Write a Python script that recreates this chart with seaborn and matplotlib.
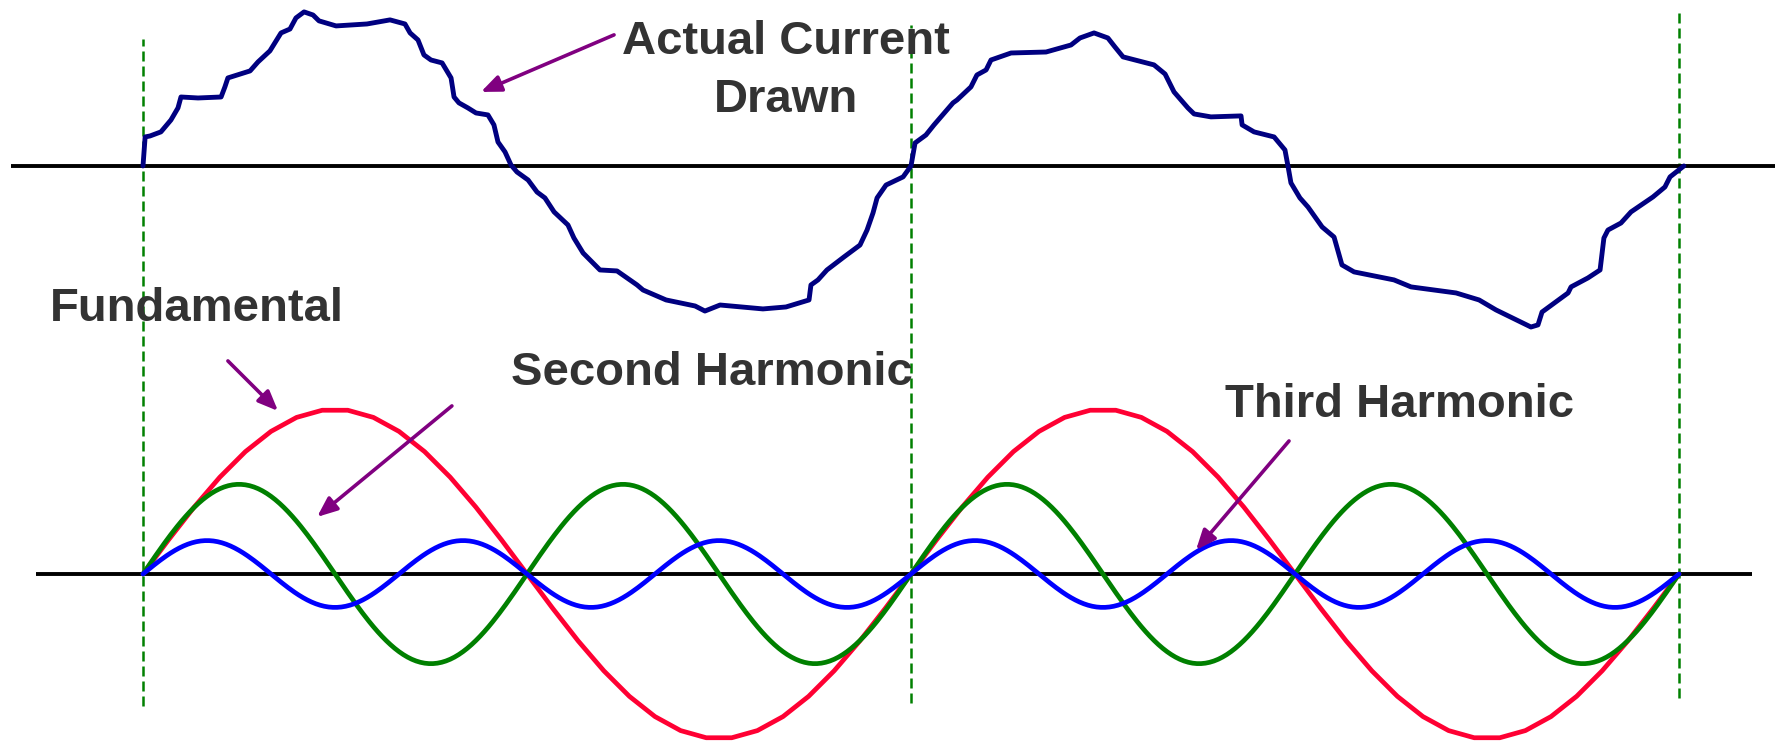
import numpy as np
import pandas as pd
import matplotlib
matplotlib.use("Agg")
import matplotlib.pyplot as plt
import seaborn as sns

# actual current drawn: phase angle (deg) vs current (fundamental peak = 1)
current_deg = [0, 1, 3.3, 8.4, 13.1, 16.4, 17.8, 25.8, 36.6, 38.4, 39.8, 50.2, 53.9, 59.5, 64.7,
               68.9, 71.7, 75.5, 79.7, 82.5, 90.5, 105.0, 115.8, 122.8, 125.2, 128.9, 131.7, 135.0,
               140.2, 144.4, 145.8, 148.1, 152.3, 156.1, 161.7, 164.5, 166.4, 169.7, 172.5, 175.3,
               180.5, 184.7, 188.4, 192.7, 199.2, 202.0, 206.3, 214.2, 222.2, 231.6, 234.4, 245.2,
               258.8, 263.4, 270.5, 290.6, 301.4, 312.2, 313.1, 316.4, 320.6, 328.6, 336.1, 339.4,
               342.2, 344.1, 348.3, 356.3, 360.0, 361.9, 367.0, 370.8, 379.7, 381.6, 388.1, 390.9,
               395.2, 397.5, 406.9, 423.3, 435.0, 439.2, 445.8, 452.3, 455.6, 459.4, 473.9, 479.1,
               483.3, 489.8, 492.7, 500.6, 514.7, 515.2, 520.8, 530.2, 535.3, 536.7, 538.1, 542.3,
               546.1, 552.7, 558.3, 562.0, 567.7, 586.4, 594.4, 615.5, 626.3, 634.2, 650.6, 653.9,
               655.8, 668.0, 669.4, 677.3, 683.0, 684.8, 686.7, 692.8, 697.5, 707.8, 713.4, 715.8,
               722.3]
current_val = [0, 0.178, 0.184, 0.209, 0.282, 0.356, 0.423, 0.417, 0.423, 0.485, 0.540, 0.583,
               0.638, 0.706, 0.816, 0.840, 0.908, 0.945, 0.926, 0.890, 0.859, 0.871, 0.896, 0.871,
               0.816, 0.773, 0.681, 0.650, 0.632, 0.540, 0.423, 0.387, 0.356, 0.325, 0.313, 0.252,
               0.147, 0.086, 0.006, -0.037, -0.086, -0.160, -0.196, -0.282, -0.362, -0.442, -0.534,
               -0.638, -0.644, -0.730, -0.761, -0.822, -0.859, -0.890, -0.853, -0.877, -0.865,
               -0.822, -0.730, -0.699, -0.638, -0.558, -0.485, -0.393, -0.288, -0.196, -0.117,
               -0.067, 0, 0.141, 0.190, 0.252, 0.387, 0.405, 0.485, 0.558, 0.589, 0.650, 0.693,
               0.699, 0.742, 0.785, 0.816, 0.785, 0.730, 0.669, 0.620, 0.564, 0.454, 0.356, 0.319,
               0.301, 0.307, 0.252, 0.209, 0.178, 0.098, 0, -0.104, -0.196, -0.252, -0.374, -0.436,
               -0.607, -0.650, -0.699, -0.742, -0.779, -0.822, -0.883, -0.988, -0.975, -0.896,
               -0.779, -0.742, -0.687, -0.638, -0.442, -0.393, -0.350, -0.282, -0.190, -0.129,
               -0.067, 0]

# harmonic components
harmonic_names = ["Fundamental", "Second Harmonic", "Third Harmonic"]
harmonic_order = [1, 2, 3]
harmonic_amp = [1.01, 0.55, 0.205]
harmonic_colors = ["#FF0033", "#008000", "#0000FF"]
harmonic_steps = [61, 721, 721]   # fundamental drawn as a coarse polyline

cycle_edges = [0, 360, 720]

TOP = 2.503          # baseline of the upper trace
TXT = "#333333"
ARROW = "#800080"

sns.set_style("white")
plt.rcParams["font.family"] = ["Liberation Sans", "DejaVu Sans"]

fig = plt.figure(figsize=(17.75, 7.45), dpi=100)
ax = fig.add_axes([0, 0, 1, 1])
ax.set_xlim(-67.03, 765.0)
ax.set_ylim(-1.049, 3.521)
ax.axis("off")

# zero lines
ax.hlines(TOP, -61.9, 765, color="black", lw=2.8, zorder=1)
ax.hlines(0, -50.2, 754.2, color="black", lw=2.8, zorder=1)

# cycle markers
vspan = [(-0.81, 3.28), (-0.79, 3.37), (-0.76, 3.47)]
for xe, (y0, y1) in zip(cycle_edges, vspan):
    ax.vlines(xe, y0, y1, color="#008000", lw=1.8, linestyles=(0, (4, 2)), zorder=0)

# actual current
cur = pd.DataFrame({"deg": current_deg, "val": np.array(current_val) + TOP})
sns.lineplot(data=cur, x="deg", y="val", sort=False, color="#000080", lw=3.5, ax=ax, zorder=3,
             solid_joinstyle="round", solid_capstyle="round")

# harmonics
for name, n, a, c, k in zip(harmonic_names, harmonic_order, harmonic_amp, harmonic_colors, harmonic_steps):
    deg = np.linspace(0, 720, k)
    df = pd.DataFrame({"deg": deg, "val": a * np.sin(np.radians(n * deg))})
    sns.lineplot(data=df, x="deg", y="val", sort=False, color=c, lw=3.4, ax=ax, zorder=3,
                 solid_joinstyle="round")

# labels
fs = 34
ax.text(301.4, 3.190, "Actual Current", ha="center", va="baseline", fontsize=fs,
        fontweight="bold", color=TXT)
ax.text(301.4, 2.834, "Drawn", ha="center", va="baseline", fontsize=fs,
        fontweight="bold", color=TXT)
ax.text(-43.6, 1.552, "Fundamental", ha="left", va="baseline", fontsize=fs,
        fontweight="bold", color=TXT)
ax.text(172.5, 1.160, "Second Harmonic", ha="left", va="baseline", fontsize=fs,
        fontweight="bold", color=TXT)
ax.text(507.2, 0.963, "Third Harmonic", ha="left", va="baseline", fontsize=fs,
        fontweight="bold", color=TXT)

arrows = [((220.8, 3.307), (158.4, 2.957)),
          ((39.8, 1.307), (63.3, 1.0)),
          ((144.8, 1.031), (81.6, 0.350)),
          ((537.2, 0.816), (493.6, 0.147))]
for tail, head in arrows:
    ax.annotate("", xy=head, xytext=tail,
                arrowprops=dict(arrowstyle="-|>,head_length=0.6,head_width=0.25",
                                color=ARROW, lw=2.6, mutation_scale=20,
                                shrinkA=0, shrinkB=0))

fig.savefig("out.png", dpi=100)
